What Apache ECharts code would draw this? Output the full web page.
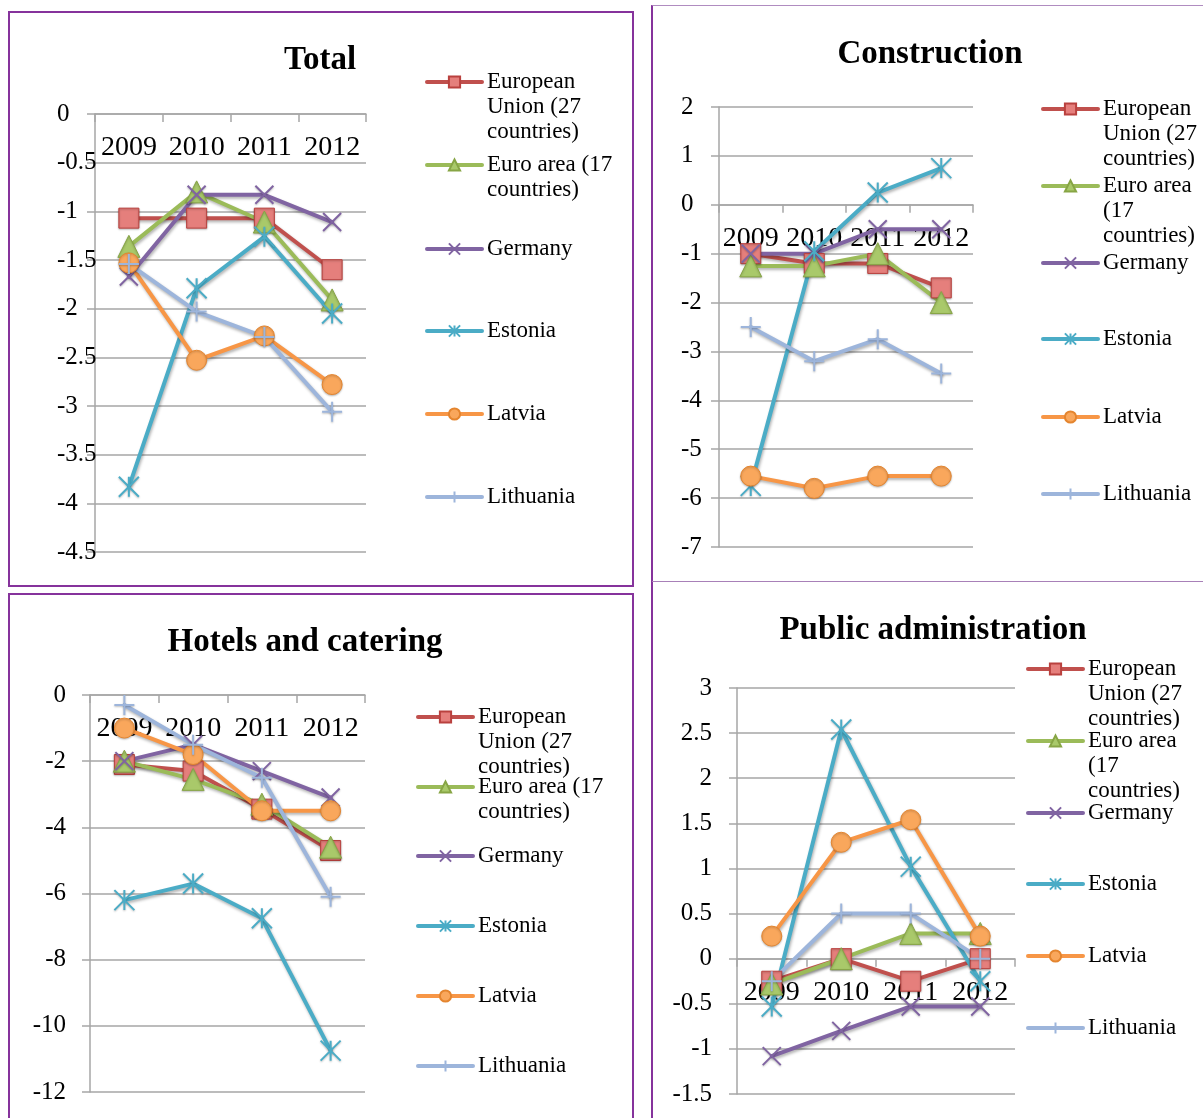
<!DOCTYPE html>
<html><head><meta charset="utf-8">
<script src="https://cdn.jsdelivr.net/npm/echarts@6/dist/echarts.min.js"></script>
<style>
html,body{margin:0;padding:0;background:#fff;}
#wrap{position:relative;width:1203px;height:1118px;overflow:hidden;}
.b{position:absolute;box-sizing:border-box;}
#chart{position:absolute;left:0;top:0;width:1203px;height:1118px;}
</style></head><body>
<div id="wrap">
<div class="b" style="left:8px;top:11px;width:626px;height:576px;border:2px solid #86339c;"></div>
<div class="b" style="left:8px;top:593px;width:626px;height:600px;border:2px solid #86339c;border-bottom:none;"></div>
<div class="b" style="left:651px;top:5px;width:600px;height:1200px;border-left:2px solid #86339c;border-top:1px solid #b08cc0;"></div>
<div class="b" style="left:652px;top:581px;width:560px;height:0;border-top:1px solid #a880b8;"></div>
<div id="chart"></div>
</div>
<script>
const years = ['2009', '2010', '2011', '2012'];
const seriesNames = ['European Union (27 countries)', 'Euro area (17 countries)', 'Germany', 'Estonia', 'Latvia', 'Lithuania'];

const totalEU = [-1.07, -1.07, -1.07, -1.60];
const totalEA = [-1.36, -0.80, -1.11, -1.91];
const totalDE = [-1.67, -0.83, -0.83, -1.11];
const totalEE = [-3.83, -1.79, -1.26, -2.05];
const totalLV = [-1.53, -2.53, -2.28, -2.78];
const totalLT = [-1.54, -2.03, -2.29, -3.06];

const consEU = [-1.0, -1.2, -1.2, -1.7];
const consEA = [-1.25, -1.25, -1.0, -2.0];
const consDE = [-1.0, -1.0, -0.5, -0.5];
const consEE = [-5.75, -0.95, 0.25, 0.75];
const consLV = [-5.55, -5.8, -5.55, -5.55];
const consLT = [-2.5, -3.2, -2.75, -3.45];

const hotelEU = [-2.1, -2.3, -3.45, -4.7];
const hotelEA = [-2.0, -2.55, -3.3, -4.6];
const hotelDE = [-2.0, -1.5, -2.3, -3.1];
const hotelEE = [-6.2, -5.7, -6.75, -10.75];
const hotelLV = [-1.0, -1.8, -3.5, -3.5];
const hotelLT = [-0.3, -1.5, -2.5, -6.1];

const pubEU = [-0.25, 0.0, -0.25, 0.0];
const pubEA = [-0.28, 0.0, 0.28, 0.28];
const pubDE = [-1.08, -0.8, -0.53, -0.53];
const pubEE = [-0.53, 2.54, 1.02, -0.25];
const pubLV = [0.25, 1.29, 1.54, 0.25];
const pubLT = [-0.25, 0.5, 0.5, 0.0];

// value-axis [min, max, step]
const totalTicks = [-4.5, 0, 0.5];
const consTicks = [-7, 2, 1];
const hotelTicks = [-12, 0, 2];
const pubTicks = [-1.5, 3, 0.5];

const FONT = "'Liberation Serif', 'Times New Roman', serif";
const GRAY = '#a6a6a6';
const PATH_X = 'path://M0,0L10,10M10,0L0,10';
const PATH_STAR = 'path://M0,0L10,10M10,0L0,10M5,0L5,10';
const PATH_PLUS = 'path://M5,0L5,10M0,5L10,5';

const styles = [
  {symbol: 'rect', size: 20, line: '#c0504d', fill: '#e57f7c', border: '#b9413e', bw: 1},
  {symbol: 'triangle', size: 22, line: '#9bbb59', fill: '#a9c96a', border: '#87a545', bw: 1},
  {symbol: PATH_X, size: 18, line: '#8064a2', fill: '#8064a2', border: '#8064a2', bw: 2},
  {symbol: PATH_STAR, size: 20, line: '#4bacc6', fill: '#4bacc6', border: '#4bacc6', bw: 2},
  {symbol: 'circle', size: 20, line: '#f79646', fill: '#f9a75c', border: '#e4852f', bw: 1},
  {symbol: PATH_PLUS, size: 20, line: '#9db5db', fill: '#9db5db', border: '#9db5db', bw: 2}
];

const wrapA = ['European\nUnion (27\ncountries)', 'Euro area (17\ncountries)', 'Germany', 'Estonia', 'Latvia', 'Lithuania'];
const wrapB = ['European\nUnion (27\ncountries)', 'Euro area\n(17\ncountries)', 'Germany', 'Estonia', 'Latvia', 'Lithuania'];

const panels = [
  {title: 'Total', data: [totalEU, totalEA, totalDE, totalEE, totalLV, totalLT], ticks: totalTicks, wrap: wrapA,
   grid: {left: 95, top: 114, width: 271, height: 438}, lAlign: 'left', lMargin: 38,
   tx: 320, ty: 44, legLeft: 425, legY: [81, 164, 248, 330, 413, 496]},
  {title: 'Construction', data: [consEU, consEA, consDE, consEE, consLV, consLT], ticks: consTicks, wrap: wrapB,
   grid: {left: 719, top: 107, width: 254, height: 440}, lAlign: 'left', lMargin: 38,
   tx: 930, ty: 38, legLeft: 1041, legY: [108, 185, 262, 338, 416, 493]},
  {title: 'Hotels and catering', data: [hotelEU, hotelEA, hotelDE, hotelEE, hotelLV, hotelLT], ticks: hotelTicks, wrap: wrapA,
   grid: {left: 90, top: 695, width: 275, height: 397}, lAlign: 'right', lMargin: 24,
   tx: 305, ty: 626, legLeft: 416, legY: [716, 786, 855, 925, 995, 1065]},
  {title: 'Public administration', data: [pubEU, pubEA, pubDE, pubEE, pubLV, pubLT], ticks: pubTicks, wrap: wrapB,
   grid: {left: 737, top: 688, width: 278, height: 406}, lAlign: 'right', lMargin: 25,
   tx: 933, ty: 614, legLeft: 1026, legY: [668, 740, 812, 883, 955, 1027]}
];

const option = {animation: false, title: [], grid: [], xAxis: [], yAxis: [], legend: [], series: []};
const LEG_FS = 23, LEG_LH = 25;

panels.forEach((p, i) => {
  option.title.push({
    text: p.title, left: p.tx, top: p.ty, textAlign: 'center', padding: 0,
    textStyle: {fontFamily: FONT, fontSize: 33, fontWeight: 'bold', color: '#000'}
  });
  option.grid.push(Object.assign({containLabel: false}, p.grid));
  // category axis crosses the value axis at 0
  const zeroOffset = -p.grid.height * p.ticks[1] / (p.ticks[1] - p.ticks[0]);
  option.xAxis.push({
    type: 'category', gridIndex: i, data: years, boundaryGap: true,
    position: 'top', offset: zeroOffset,
    axisLine: {show: true, onZero: false, lineStyle: {color: GRAY, width: 1.5}},
    axisTick: {show: true, inside: true, length: 8, lineStyle: {color: GRAY, width: 1.5}},
    axisLabel: {inside: true, interval: 0, margin: 20, fontFamily: FONT, fontSize: 28, color: '#000'},
    splitLine: {show: false}
  });
  option.yAxis.push({
    type: 'value', gridIndex: i, min: p.ticks[0], max: p.ticks[1], interval: p.ticks[2],
    axisLine: {show: true, lineStyle: {color: GRAY, width: 1.5}},
    axisTick: {show: true, length: 8, lineStyle: {color: GRAY, width: 1.5}},
    axisLabel: {align: p.lAlign, margin: p.lMargin, fontFamily: FONT, fontSize: 25, color: '#000'},
    splitLine: {show: true, lineStyle: {color: GRAY, width: 1.5}}
  });
  p.data.forEach((vals, j) => {
    const s = styles[j];
    option.series.push({
      type: 'line', name: seriesNames[j], xAxisIndex: i, yAxisIndex: i, data: vals,
      symbol: s.symbol, symbolSize: s.size, showAllSymbol: true,
      lineStyle: {color: s.line, width: 4, cap: 'round', join: 'round',
        shadowColor: 'rgba(0,0,0,0.3)', shadowBlur: 3, shadowOffsetX: 1, shadowOffsetY: 2},
      itemStyle: {color: s.fill, borderColor: s.border, borderWidth: s.bw,
        shadowColor: 'rgba(0,0,0,0.25)', shadowBlur: 2, shadowOffsetY: 1},
      emphasis: {disabled: true}
    });
  });
  seriesNames.forEach((nm, j) => {
    const lines = p.wrap[j].split('\n');
    const n = lines.length;
    // leading blank lines keep the icon level with the first text line
    const text = new Array(n).join('\n') + p.wrap[j];
    option.legend.push({
      orient: 'vertical', left: p.legLeft, top: p.legY[j] - ((2 * n - 1) * LEG_LH / 2 - 1), padding: 0,
      itemWidth: 55, itemHeight: 14, selectedMode: false,
      data: [nm],
      formatter: () => text,
      lineStyle: {width: 4, cap: 'round'},
      textStyle: {fontFamily: FONT, fontSize: LEG_FS, lineHeight: LEG_LH, color: '#000'}
    });
  });
});

const chart = echarts.init(document.getElementById('chart'), null, {renderer: 'canvas'});
chart.setOption(option);
</script>
</body></html>
